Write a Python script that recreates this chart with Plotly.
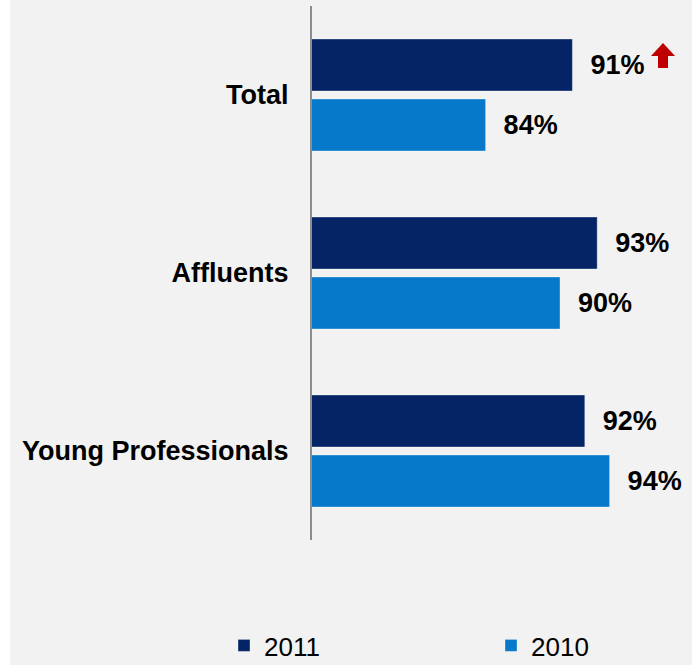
import plotly.graph_objects as go

# Survey results by segment, two waves
segments = ["Total", "Affluents", "Young Professionals"]
share_2011 = [91, 93, 92]
share_2010 = [84, 90, 94]
series_names = ["2011", "2010"]

DARK = "#052466"
BLUE = "#0679cb"
BG = "#f2f2f2"
FONT = "Liberation Sans, Arial, sans-serif"

W, H = 692, 665
L, R, T, B = 312, 8, 6, 125
PW, PH = W - L - R, H - T - B


def px_x(px):
    return (px - L) / PW


def px_y(py):
    return 1 - (py - T) / PH


fig = go.Figure()
for name, vals, color in [(series_names[0], share_2011, DARK),
                          (series_names[1], share_2010, BLUE)]:
    fig.add_trace(go.Bar(
        y=segments, x=vals, name=name, orientation="h",
        marker=dict(color=color, line=dict(color="rgba(255,255,255,0.35)", width=1)),
        texttemplate="\u00a0\u00a0%{x}%", textposition="outside",
        constraintext="none", cliponaxis=False,
        textfont=dict(family=FONT, size=27, color="black", weight="bold"),
        hoverinfo="skip",
    ))

# white strip along the left edge of the page
fig.add_shape(type="rect", xref="paper", yref="paper",
              x0=px_x(-2), x1=px_x(10), y0=px_y(H + 2), y1=px_y(-2),
              fillcolor="white", line=dict(width=0), layer="below")

# red "up" arrow next to the Total 2011 value
path = (f"M {px_x(663)},{px_y(43)} L {px_x(675)},{px_y(56)} L {px_x(668)},{px_y(56)} "
        f"L {px_x(668)},{px_y(68)} L {px_x(658)},{px_y(68)} L {px_x(658)},{px_y(56)} "
        f"L {px_x(651)},{px_y(56)} Z")
fig.add_shape(type="path", xref="paper", yref="paper", path=path,
              fillcolor="#c00000", line=dict(width=0))

fig.update_layout(
    width=W, height=H,
    margin=dict(l=L, r=R, t=T, b=B, autoexpand=False),
    paper_bgcolor=BG, plot_bgcolor=BG,
    barmode="group", bargap=0.326, bargroupgap=0.133,
    font=dict(family=FONT, color="black"),
    xaxis=dict(range=[70, 100], visible=False, fixedrange=True),
    yaxis=dict(
        categoryorder="array", categoryarray=segments, autorange="reversed",
        showline=True, linecolor="#8c8c8c", linewidth=2,
        ticks="outside", ticklen=16, tickcolor="rgba(0,0,0,0)",
        showgrid=False, zeroline=False,
        tickfont=dict(family=FONT, size=27, color="black", weight="bold"),
        fixedrange=True,
    ),
    legend=dict(
        orientation="h", x=px_x(224), xanchor="left", y=px_y(622), yanchor="top",
        font=dict(family=FONT, size=26, color="black"),
        entrywidth=222, entrywidthmode="pixels",
        bgcolor="rgba(0,0,0,0)", traceorder="normal",
    ),
    showlegend=True,
)

fig.write_html("out.html")
